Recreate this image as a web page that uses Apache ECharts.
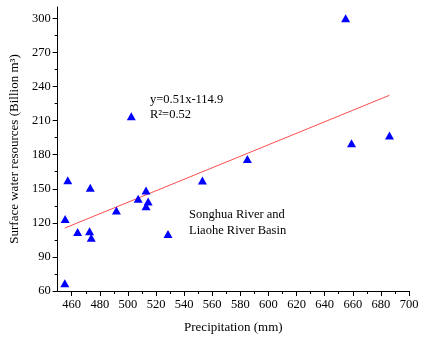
<!DOCTYPE html>
<html>
<head>
<meta charset="utf-8">
<script src="https://cdn.jsdelivr.net/npm/echarts@6/dist/echarts.min.js"></script>
<style>
  html, body { margin: 0; padding: 0; background: #fff; }
  #chart { width: 423px; height: 340px; }
</style>
</head>
<body>
<div id="chart"></div>
<script>
// precipitation (mm) vs surface water resources (billion m3)
const precip = [457.2, 473.2, 455.3, 464.2, 472.7, 473.9, 491.8, 507.3, 512.9, 512.9,
  514.4, 528.5, 455.1, 553.0, 585.0, 654.9, 659.1, 686.1, 502.4];
const water = [157.6, 150.8, 123.3, 111.9, 112.7, 106.8, 130.9, 141.1, 148.5, 134.7,
  138.8, 110.1, 66.8, 157.2, 176.3, 300.2, 190.1, 196.9, 213.8];

// fitted line ends
const fitX = [455.1, 686.1];
const fitY = [115.4, 232.3];

const xTicks = [460, 480, 500, 520, 540, 560, 580, 600, 620, 640, 660, 680, 700];
const xMinorTicks = [470, 490, 510, 530, 550, 570, 590, 610, 630, 650, 670, 690];
const yTicks = [60, 90, 120, 150, 180, 210, 240, 270, 300];
const yMinorTicks = [75, 105, 135, 165, 195, 225, 255, 285];

const font = 'Liberation Serif';

const chart = echarts.init(document.getElementById('chart'));

const baseAxis = {
  axisLine: { show: true, lineStyle: { color: '#000', width: 1 } },
  splitLine: { show: false },
};

chart.setOption({
  animation: false,
  grid: { left: 55, right: 14, top: 7, bottom: 49 },
  xAxis: [
    {
      ...baseAxis,
      type: 'value',
      min: 450,
      max: 700,
      name: 'Precipitation (mm)',
      nameLocation: 'middle',
      nameGap: 30,
      nameTextStyle: { fontFamily: font, fontSize: 13, color: '#000' },
      axisTick: { customValues: xTicks, length: 5, lineStyle: { color: '#000' } },
      axisLabel: { customValues: xTicks, fontFamily: font, fontSize: 12.5, color: '#000', margin: 7 },
    },
    {
      type: 'value',
      min: 450,
      max: 700,
      position: 'bottom',
      axisLine: { show: false },
      splitLine: { show: false },
      axisLabel: { show: false },
      axisTick: { customValues: xMinorTicks, length: 3, lineStyle: { color: '#000' } },
    },
  ],
  yAxis: [
    {
      ...baseAxis,
      type: 'value',
      min: 60,
      max: 310,
      name: 'Surface water resources (Billion m³)',
      nameLocation: 'middle',
      nameGap: 33,
      nameTextStyle: { fontFamily: font, fontSize: 13, color: '#000' },
      axisTick: { customValues: yTicks, length: 5, lineStyle: { color: '#000' } },
      axisLabel: { customValues: yTicks, fontFamily: font, fontSize: 12.5, color: '#000', margin: 7 },
    },
    {
      type: 'value',
      min: 60,
      max: 310,
      position: 'left',
      axisLine: { show: false },
      splitLine: { show: false },
      axisLabel: { show: false },
      axisTick: { customValues: yMinorTicks, length: 3, lineStyle: { color: '#000' } },
    },
  ],
  series: [
    {
      type: 'line',
      data: fitX.map((x, i) => [x, fitY[i]]),
      symbol: 'none',
      lineStyle: { color: '#ff4d4d', width: 1 },
      z: 1,
    },
    {
      type: 'scatter',
      data: precip.map((x, i) => [x, water[i]]),
      symbol: 'triangle',
      symbolSize: [9, 8],
      itemStyle: { color: '#0000ff', opacity: 1 },
      z: 2,
    },
  ],
  graphic: [
    {
      type: 'text',
      left: 150,
      top: 92,
      style: {
        text: 'y=0.51x-114.9\nR²=0.52',
        fontFamily: font,
        fontSize: 12.5,
        lineHeight: 15,
        fill: '#000',
      },
    },
    {
      type: 'text',
      left: 189,
      top: 207,
      style: {
        text: 'Songhua River and\nLiaohe River Basin',
        fontFamily: font,
        fontSize: 12.5,
        lineHeight: 16,
        fill: '#000',
      },
    },
  ],
});
</script>
</body>
</html>
